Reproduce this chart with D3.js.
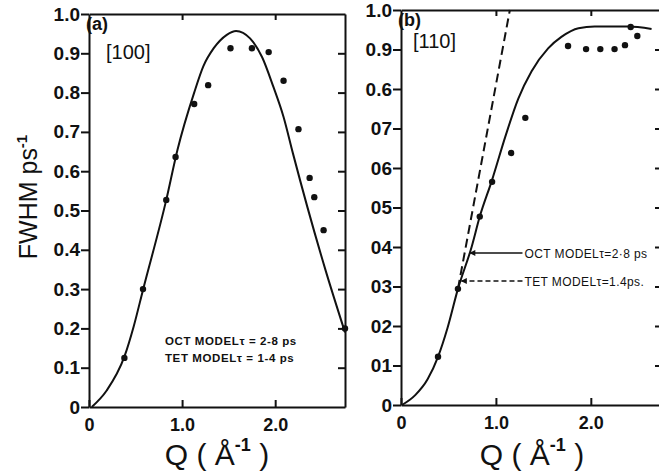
<!DOCTYPE html>
<html>
<head>
<meta charset="utf-8">
<script src="https://cdn.jsdelivr.net/npm/d3@7"></script>
<style>
body { margin: 0; background: #fff; }
svg text { font-family: "Liberation Sans", Arial, sans-serif; fill: #111; }
</style>
</head>
<body>
<svg id="chart" width="659" height="476"></svg>
<script>
"use strict";

// (a) [100] : measured points and OCT model curve
var qA    = [0.38, 0.58, 0.83, 0.93, 1.13, 1.28, 1.52, 1.75, 1.93, 2.09, 2.25, 2.37, 2.42, 2.52, 2.75];
var fwhmA = [0.125, 0.30, 0.527, 0.636, 0.771, 0.819, 0.913, 0.913, 0.903, 0.83, 0.707, 0.583, 0.534, 0.45, 0.20];
var curveQA = [0.03, 0.19, 0.38, 0.48, 0.58, 0.83, 0.95, 1.13, 1.23, 1.34, 1.48, 1.58, 1.73, 1.86, 1.98, 2.09, 2.19, 2.54, 2.75];
var curveYA = [0, 0.042, 0.128, 0.205, 0.298, 0.527, 0.654, 0.80, 0.868, 0.913, 0.947, 0.957, 0.938, 0.89, 0.815, 0.738, 0.646, 0.349, 0.19];

// (b) [110]
var qB    = [0.39, 0.60, 0.83, 0.96, 1.16, 1.31, 1.76, 1.95, 2.10, 2.25, 2.36, 2.42, 2.49];
var fwhmB = [0.122, 0.294, 0.477, 0.565, 0.638, 0.727, 0.909, 0.901, 0.901, 0.901, 0.911, 0.957, 0.934];
var curveQB = [0.01, 0.15, 0.28, 0.39, 0.49, 0.60, 0.744, 0.83, 0.96, 1.1, 1.235, 1.376, 1.55, 1.69, 1.87, 2.04, 2.39, 2.64];
var curveYB = [0, 0.025, 0.065, 0.122, 0.195, 0.294, 0.40, 0.477, 0.57, 0.68, 0.775, 0.845, 0.903, 0.932, 0.954, 0.958, 0.958, 0.952];
// TET model (dashed)
var tetQB = [0.60, 1.147];
var tetYB = [0.294, 1.0];

var yTicks   = [0, 0.1, 0.2, 0.3, 0.4, 0.5, 0.6, 0.7, 0.8, 0.9, 1.0];
var yLabelsA = ["0", "0.1", "0.2", "0.3", "0.4", "0.5", "0.6", "0.7", "0.8", "0.9", "1.0"];
var yLabelsB = ["0", "01", "02", "03", "04", "05", "06", "07", "0.6", "0.9", "1.0"];
var xTicks   = [0, 1, 2];
var xLabels  = ["0", "1.0", "2.0"];

var svg = d3.select("#chart");

var defs = svg.append("defs");
defs.append("marker").attr("id", "arr")
    .attr("viewBox", "0 0 10 10").attr("refX", 10).attr("refY", 5)
    .attr("markerWidth", 8).attr("markerHeight", 6).attr("markerUnits", "userSpaceOnUse")
    .attr("orient", "auto")
  .append("path").attr("d", "M0,0L10,5L0,10z").attr("fill", "#111");

function drawPanel(p) {
    var x = p.x, y = p.y;
    var g = svg.append("g");

    // left axis, outward ticks with labels
    g.append("g").attr("transform", "translate(" + x(0) + ",0)")
        .call(d3.axisLeft(y).tickValues(yTicks).tickSize(8).tickSizeOuter(0).tickPadding(1)
            .tickFormat(function(d, i){ return p.yLabels[i]; }))
        .call(function(a){
            a.selectAll("text").style("font-size", "19px").style("font-weight", "bold").attr("fill", "#111");
        });

    // bottom axis, ticks inward
    g.append("g").attr("transform", "translate(0," + y(0) + ")")
        .call(d3.axisBottom(x).tickValues(xTicks).tickSize(-7).tickSizeOuter(0).tickPadding(11)
            .tickFormat(function(d, i){ return xLabels[i]; }))
        .call(function(a){
            a.selectAll("text").style("font-size", "18px").style("font-weight", "bold").attr("fill", "#111");
        });

    // top and right frame with inward ticks
    g.append("g").attr("transform", "translate(0," + y(1) + ")")
        .call(d3.axisTop(x).tickValues([1, 2]).tickSize(-6).tickSizeOuter(0).tickFormat(""));
    g.append("g").attr("transform", "translate(" + x(2.75) + ",0)")
        .call(d3.axisRight(y).tickValues(yTicks.slice(1, 10)).tickSize(-7).tickSizeOuter(0).tickFormat(""));

    g.selectAll(".domain").attr("stroke", "#111").attr("stroke-width", 2);
    g.selectAll(".tick line").attr("stroke", "#111").attr("stroke-width", 2);

    var line = d3.line().x(function(d){ return x(d[0]); }).y(function(d){ return y(d[1]); })
        .curve(d3.curveMonotoneX);

    g.append("path").datum(d3.zip(p.curveQ, p.curveY))
        .attr("d", line).attr("fill", "none").attr("stroke", "#111").attr("stroke-width", 2);

    g.selectAll("circle.pt").data(d3.zip(p.q, p.fwhm)).enter()
        .append("circle").attr("class", "pt")
        .attr("cx", function(d){ return x(d[0]); })
        .attr("cy", function(d){ return y(d[1]); })
        .attr("r", 3.2).attr("fill", "#111");

    // panel tag and direction
    g.append("text").attr("x", x(0) - 3).attr("y", y(1) + p.tagDy)
        .style("font-size", "18px").style("font-weight", "bold").text(p.tag);
    g.append("text").attr("x", p.dirX).attr("y", p.dirY)
        .style("font-size", "20px").text(p.dir);

    // x axis title  Q (Å-1)
    var t = g.append("text").attr("x", p.titleX).attr("y", 465).attr("text-anchor", "middle")
        .style("font-size", "30px");
    t.append("tspan").text("Q ( Å");
    t.append("tspan").attr("dy", -14).style("font-size", "18px").style("font-weight", "bold").text("-1");
    t.append("tspan").attr("dy", 14).text(" )");
    return g;
}

var xA = d3.scaleLinear().domain([0, 2.75]).range([89, 345]);
var yA = d3.scaleLinear().domain([0, 1]).range([407, 14]);
var xB = d3.scaleLinear().domain([0, 2.75]).range([401, 662]);
var yB = d3.scaleLinear().domain([0, 1]).range([405, 10]);

var gA = drawPanel({x: xA, y: yA, yLabels: yLabelsA, q: qA, fwhm: fwhmA,
    curveQ: curveQA, curveY: curveYA, tag: "(a)", tagDy: 16, dir: "[100]", dirX: 106, dirY: 59, titleX: 217});
var gB = drawPanel({x: xB, y: yB, yLabels: yLabelsB, q: qB, fwhm: fwhmB,
    curveQ: curveQB, curveY: curveYB, tag: "(b)", tagDy: 16, dir: "[110]", dirX: 413, dirY: 48, titleX: 532});

// model notes in (a)
gA.append("text").attr("x", 165).attr("y", 345).style("font-size", "11.5px").style("font-weight", "bold")
    .style("letter-spacing", "0.6px").text("OCT MODELτ = 2-8 ps");
gA.append("text").attr("x", 165).attr("y", 362).style("font-size", "11.5px").style("font-weight", "bold")
    .style("letter-spacing", "0.6px").text("TET MODELτ = 1-4 ps");

// TET dashed line in (b)
gB.append("path").datum(d3.zip(tetQB, tetYB))
    .attr("d", d3.line().x(function(d){ return xB(d[0]); }).y(function(d){ return yB(d[1]); }))
    .attr("fill", "none").attr("stroke", "#111").attr("stroke-width", 2).attr("stroke-dasharray", "9,5");

// arrows with labels in (b)
var notesB = [
    {tipQ: 0.72, tipY: 0.385, fromQ: 1.28, dash: null, label: "OCT  MODELτ=2·8 ps"},
    {tipQ: 0.63, tipY: 0.314, fromQ: 1.28, dash: "5,3", label: "TET  MODELτ=1.4ps."}
];
notesB.forEach(function(n){
    gB.append("line")
        .attr("x1", xB(n.fromQ)).attr("y1", yB(n.tipY))
        .attr("x2", xB(n.tipQ)).attr("y2", yB(n.tipY))
        .attr("stroke", "#111").attr("stroke-width", 1.5)
        .attr("stroke-dasharray", n.dash)
        .attr("marker-end", "url(#arr)");
    gB.append("text").attr("x", xB(n.fromQ) + 2).attr("y", yB(n.tipY) + 5)
        .style("font-size", "12px").style("letter-spacing", "0.4px").text(n.label);
});

// y axis title
var yt = svg.append("text").attr("transform", "translate(37,197) rotate(-90)")
    .attr("text-anchor", "middle").style("font-size", "25px");
yt.append("tspan").text("FWHM ps");
yt.append("tspan").attr("dy", -10).style("font-size", "15px").style("font-weight", "bold").text("-1");
</script>
</body>
</html>
